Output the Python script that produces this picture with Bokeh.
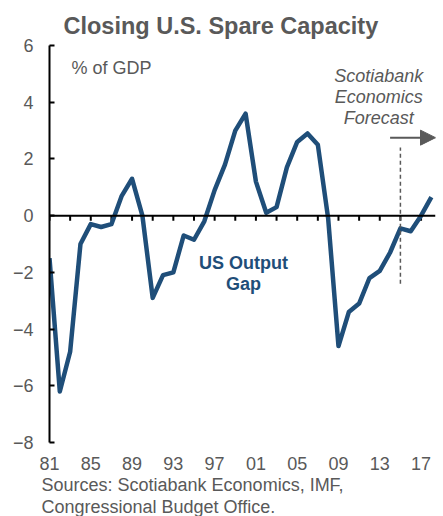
from bokeh.plotting import figure
from bokeh.models import LinearAxis, FixedTicker, Title, Range1d, Arrow, NormalHead, Span
from bokeh.core.properties import value
from bokeh.embed import file_html
from bokeh.resources import INLINE

# ---- data ----
years = list(range(1981, 2019))
output_gap = [-1.5, -6.2, -4.8, -1.0, -0.3, -0.4, -0.3, 0.7, 1.3, 0.0,
              -2.9, -2.1, -2.0, -0.7, -0.85, -0.2, 0.9, 1.8, 3.0, 3.6,
              1.2, 0.1, 0.3, 1.7, 2.6, 2.9, 2.5, -0.1, -4.6, -3.4,
              -3.1, -2.2, -1.95, -1.3, -0.45, -0.55, 0.0, 0.65]
label_years = [1981, 1985, 1989, 1993, 1997, 2001, 2005, 2009, 2013, 2017]
label_texts = ["81", "85", "89", "93", "97", "01", "05", "09", "13", "17"]
tick_years = list(range(1981, 2018, 2))
y_ticks = [-8, -6, -4, -2, 0, 2, 4, 6]
forecast_start = 2015
forecast_lines = ["Scotiabank", "Economics", "Forecast"]
series_name_lines = ["US Output", "Gap"]
source_lines = ["Sources: Scotiabank Economics, IMF,", "Congressional Budget Office."]

FONT = "Liberation Sans"
GRAY = "#595959"
BLUE = "#1F4E79"
TICK_LEN = 0.18  # zero-line tick length in y units

p = figure(width=443, height=516,
           x_range=Range1d(1981, 2018.4), y_range=Range1d(-8, 6),
           output_backend="svg", toolbar_location=None,
           x_axis_location=None,
           min_border_left=49, min_border_right=8, min_border_top=45,
           min_border_bottom=0)
p.grid.visible = False
p.outline_line_color = None
p.background_fill_color = "white"
p.border_fill_color = "white"

p.title.text = "Closing U.S. Spare Capacity"
p.title.align = "left"
p.title.offset = 14
p.title.text_font = FONT
p.title.text_font_size = "23.5px"
p.title.text_font_style = "bold"
p.title.text_color = GRAY
p.title.standoff = 13

# y axis
ya = p.yaxis[0]
ya.ticker = FixedTicker(ticks=y_ticks)
ya.major_tick_in = 5
ya.major_tick_out = 0
ya.minor_tick_line_color = None
ya.axis_line_width = 2
ya.axis_line_color = "black"
ya.major_tick_line_width = 2
ya.major_tick_line_color = "black"
ya.major_label_text_font = FONT
ya.major_label_text_font_size = "18px"
ya.major_label_text_color = GRAY
ya.major_label_standoff = 16

# labels axis at bottom
xa = LinearAxis(ticker=FixedTicker(ticks=label_years),
                major_label_overrides={y: t for y, t in zip(label_years, label_texts)},
                axis_line_color=None, major_tick_line_color=None,
                minor_tick_line_color=None, major_tick_in=0, major_tick_out=0,
                major_label_text_font=FONT, major_label_text_font_size="18px",
                major_label_text_color=GRAY, major_label_standoff=14)
p.add_layout(xa, "below")

for txt in source_lines:
    p.add_layout(Title(text=txt, align="left", offset=-8, text_font=FONT,
                       text_font_size="18px", text_font_style="normal",
                       text_color=GRAY, standoff=0), "below")

# zero line with tick marks
p.add_layout(Span(location=0, dimension="width", line_color="black", line_width=2))
p.segment(x0=tick_years, y0=[0] * len(tick_years), x1=tick_years,
          y1=[-TICK_LEN] * len(tick_years), line_color="black", line_width=2)

# series
p.line(years, output_gap, line_width=4.5, line_color=BLUE, line_join="round")

# forecast marker
p.segment(x0=[forecast_start], y0=[-2.4], x1=[forecast_start], y1=[2.4],
          line_color=GRAY, line_width=1.5, line_dash="4 3")
p.add_layout(Arrow(x_start=forecast_start - 1, y_start=2.75, x_end=2018.4, y_end=2.75,
                   line_color=GRAY, line_width=2,
                   end=NormalHead(size=15, fill_color=GRAY, line_color=GRAY)))

p.text(x=[2012.9] * 3, y=[4.94, 4.2, 3.46], text=forecast_lines,
       text_font=value(FONT), text_font_size="18px", text_font_style="italic",
       text_color=GRAY, text_align="center", text_baseline="middle")

p.text(x=[1983.13], y=[5.22], text=["% of GDP"],
       text_font=value(FONT), text_font_size="18px",
       text_color=GRAY, text_align="left", text_baseline="middle")

p.text(x=[1999.8, 1999.8], y=[-1.66, -2.4], text=series_name_lines,
       text_font=value(FONT), text_font_size="18px", text_font_style="bold",
       text_color=BLUE, text_align="center", text_baseline="middle")

open("out.html", "w").write(file_html(p, INLINE))
